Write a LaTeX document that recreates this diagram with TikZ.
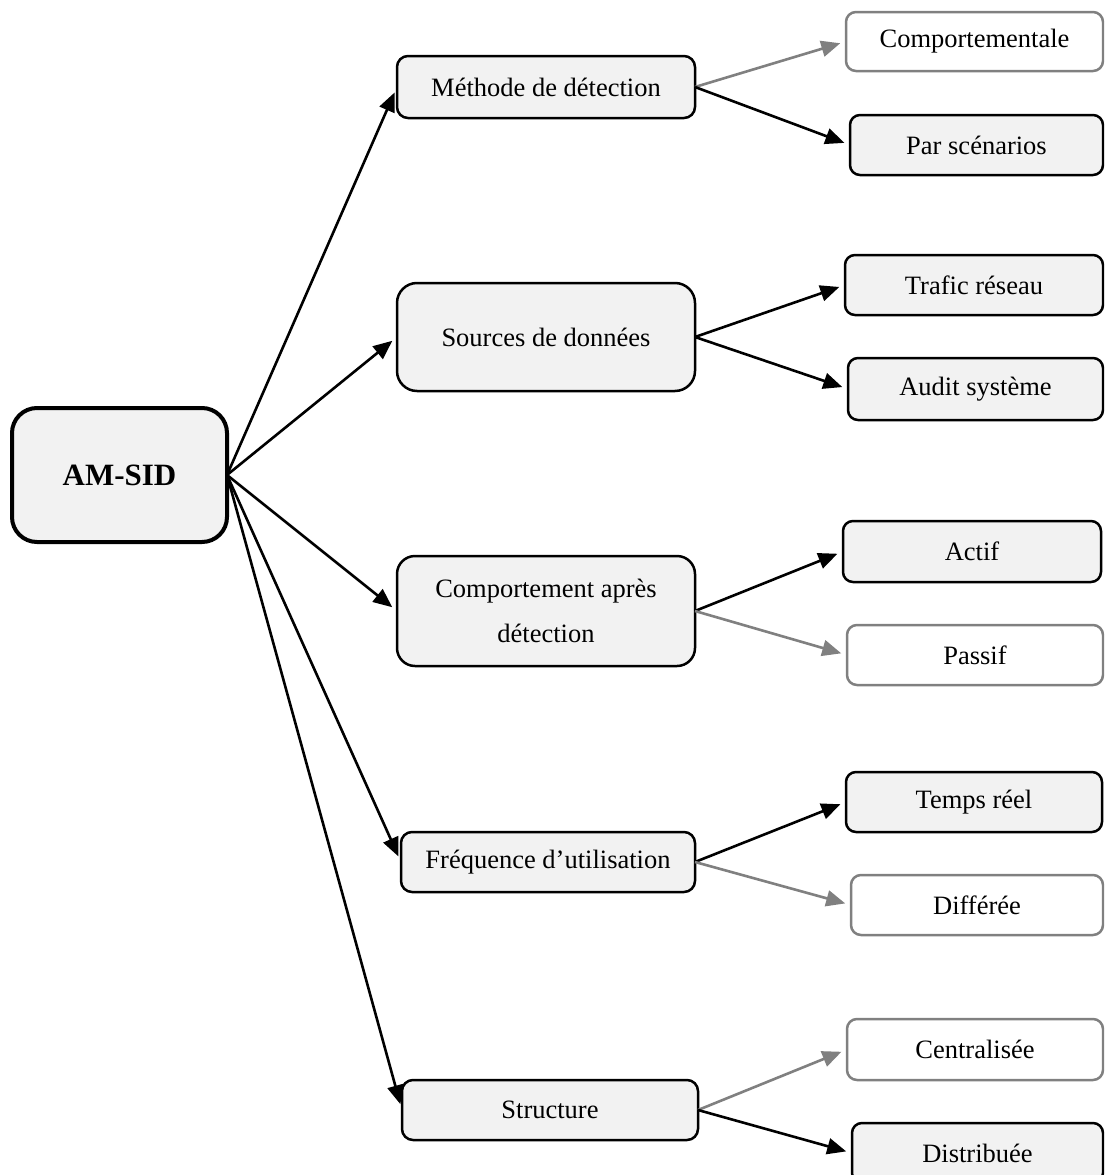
\documentclass[tikz,border=0pt]{standalone}
\usepackage{fontspec}
\setmainfont{Liberation Serif}
\usetikzlibrary{arrows.meta}
\definecolor{boxfill}{HTML}{F2F2F2}
\definecolor{greyline}{HTML}{808080}
\begin{document}
\begin{tikzpicture}[x=1pt,y=-1pt,
  every node/.style={inner sep=0pt, outer sep=0pt, align=center,
    font=\fontsize{26.5}{45}\selectfont},
  rootbox/.style={draw=black, line width=4pt, fill=boxfill, rounded corners=25pt,
    font=\fontsize{31}{36}\selectfont\bfseries},
  catbox/.style={draw=black, line width=2.5pt, fill=boxfill, rounded corners=11pt},
  leafbox/.style={draw=black, line width=2.5pt, fill=boxfill, rounded corners=10pt},
  lightbox/.style={draw=greyline, line width=2.5pt, fill=white, rounded corners=10pt},
  link/.style={draw=black, line width=2.6pt, -{Triangle[length=19pt,width=16pt]},
    shorten >=6pt},
  lightlink/.style={link, draw=greyline, -{Triangle[length=19pt,width=16pt,fill=greyline]}},
]
\clip (0,0) rectangle (1104,1175);
\fill[white] (0,0) rectangle (1104,1175);

% root
\node[rootbox, minimum width=215pt, minimum height=134pt] (root) at (119.5,475) {AM-SID};

% categories
\node[catbox, minimum width=298pt, minimum height=62pt] (m1) at (546,87) {Méthode de détection};
\node[catbox, rounded corners=20pt, minimum width=298pt, minimum height=108pt] (m2) at (546,337) {Sources de données};
\node[catbox, rounded corners=18pt, minimum width=298pt, minimum height=110pt] (m3) at (546,611) {Comportement après\\détection};
\node[catbox, minimum width=294pt, minimum height=60pt] (m4) at (548,862) {Fréquence d’utilisation};
\node[catbox, minimum width=296pt, minimum height=60pt] (m5) at (550,1110) {Structure};

% leaves
\node[lightbox, minimum width=257pt, minimum height=59pt] (c11) at (974.5,41.5) {Comportementale};
\node[leafbox, minimum width=253pt, minimum height=60pt] (c12) at (976.5,145) {Par scénarios};
\node[leafbox, minimum width=258pt, minimum height=60pt] (c21) at (974,285) {Trafic réseau};
\node[leafbox, minimum width=255pt, minimum height=62pt] (c22) at (975.5,389) {Audit système};
\node[leafbox, minimum width=258pt, minimum height=61pt] (c31) at (972,551.5) {Actif};
\node[lightbox, minimum width=256pt, minimum height=60pt] (c32) at (975,655) {Passif};
\node[leafbox, minimum width=256pt, minimum height=60pt] (c41) at (974,802) {Temps réel};
\node[lightbox, minimum width=252pt, minimum height=60pt] (c42) at (977,905) {Différée};
\node[lightbox, minimum width=256pt, minimum height=61pt] (c51) at (975,1049.5) {Centralisée};
\node[leafbox, minimum width=251pt, minimum height=60pt] (c52) at (977.5,1153) {Distribuée};

% root to categories
\foreach \m in {m1,m2,m3,m4,m5}
  \draw[link] (root.east) -- (\m.west);

% categories to leaves
\draw[lightlink] (m1.east) -- (c11.west);
\draw[link] (m1.east) -- (c12.west);
\draw[link] (m2.east) -- (c21.west);
\draw[link] (m2.east) -- (c22.west);
\draw[link] (m3.east) -- (c31.west);
\draw[lightlink] (m3.east) -- (c32.west);
\draw[link] (m4.east) -- (c41.west);
\draw[lightlink] (m4.east) -- (c42.west);
\draw[lightlink] (m5.east) -- (c51.west);
\draw[link] (m5.east) -- (c52.west);
\end{tikzpicture}
\end{document}
